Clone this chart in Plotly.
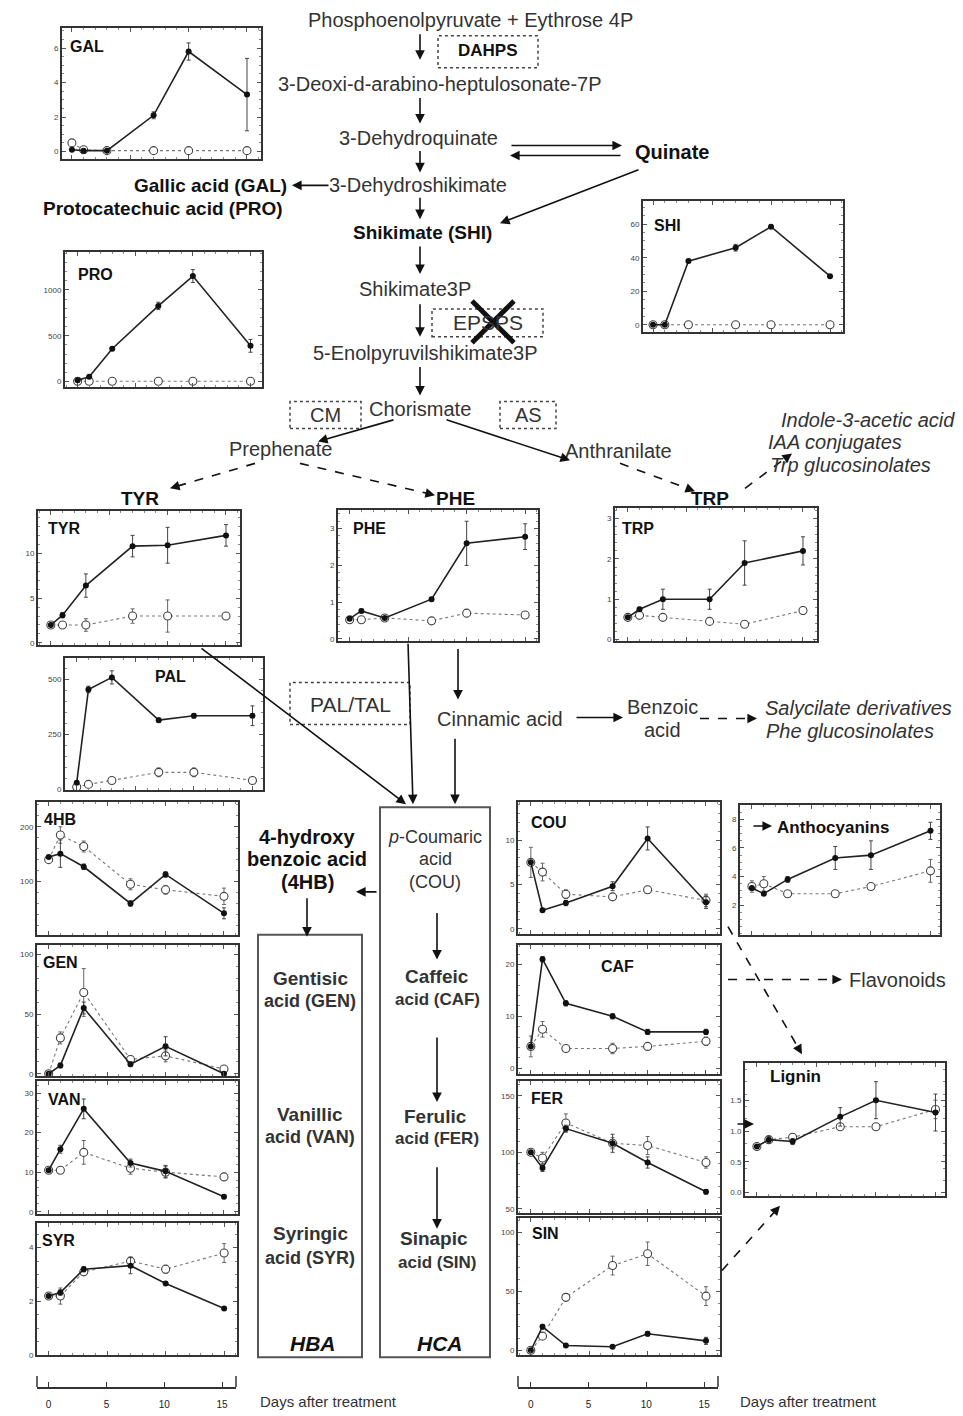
import plotly.graph_objects as go

W, H = 963, 1416
FONT = "Liberation Sans, Arial, sans-serif"

days = [0, 1, 3, 7, 10, 15]

# ---- data (filled = treated, open = control) ----
gal_f = [0.1, 0.05, 0.05, 2.1, 5.8, 3.3]
gal_f_err = [0, 0, 0, 0.2, 0.5, 2.1]
gal_o = [0.5, 0.1, 0.05, 0.05, 0.05, 0.05]
gal_o_err = [0, 0, 0, 0, 0, 0]

pro_f = [15, 54, 359, 826, 1152, 391]
pro_f_err = [0, 0, 20, 40, 70, 70]
pro_o = [5, 5, 5, 5, 5, 5]
pro_o_err = [0, 0, 0, 0, 0, 0]

shi_f = [0, 0, 38, 46, 58.5, 29]
shi_f_err = [0, 0, 1, 2, 1, 1]
shi_o = [0, 0, 0, 0, 0, 0]
shi_o_err = [0, 0, 0, 0, 0, 0]

tyr_f = [2.0, 3.1, 6.4, 10.8, 10.9, 12.0]
tyr_f_err = [0, 0.3, 1.3, 1.2, 2.0, 1.2]
tyr_o = [2.0, 2.0, 2.0, 3.0, 3.0, 3.0]
tyr_o_err = [0, 0, 0.7, 0.8, 1.8, 0.3]

phe_f = [0.55, 0.76, 0.57, 1.08, 2.6, 2.78]
phe_f_err = [0, 0.05, 0, 0.05, 0.6, 0.35]
phe_o = [0.52, 0.52, 0.57, 0.49, 0.7, 0.65]
phe_o_err = [0, 0, 0, 0, 0.1, 0.05]

trp_f = [0.55, 0.75, 1.0, 1.0, 1.9, 2.2]
trp_f_err = [0, 0.05, 0.25, 0.25, 0.55, 0.35]
trp_o = [0.55, 0.6, 0.55, 0.45, 0.38, 0.72]
trp_o_err = [0, 0, 0, 0, 0, 0.1]

pal_f = [30, 455, 510, 315, 335, 335]
pal_f_err = [0, 15, 30, 10, 10, 45]
pal_o = [10, 22, 40, 77, 77, 40]
pal_o_err = [0, 5, 8, 20, 20, 10]

hb4_f = [145, 151, 127, 60, 113, 42]
hb4_f_err = [0, 25, 5, 5, 5, 10]
hb4_o = [140, 185, 164, 95, 85, 73]
hb4_o_err = [0, 15, 10, 10, 8, 15]

gen_f = [0, 7, 55, 8, 23, 0]
gen_f_err = [0, 2, 5, 2, 8, 0]
gen_o = [0, 30, 68, 12, 15, 4]
gen_o_err = [0, 5, 20, 3, 5, 2]

van_f = [10.5, 15.8, 26, 12.3, 10.2, 3.8]
van_f_err = [0, 1, 2.5, 1, 1.5, 0.5]
van_o = [10.5, 10.5, 15, 11, 10, 8.8]
van_o_err = [0, 0.5, 3, 1.5, 1.5, 0.5]

syr_f = [2.2, 2.33, 3.2, 3.33, 2.67, 1.74]
syr_f_err = [0, 0.1, 0.1, 0.3, 0.05, 0.05]
syr_o = [2.2, 2.2, 3.1, 3.5, 3.2, 3.8]
syr_o_err = [0, 0.3, 0.1, 0.15, 0.15, 0.35]

cou_f = [7.5, 2.1, 2.9, 4.8, 10.2, 3.0]
cou_f_err = [0, 0.2, 0.3, 0.5, 1.3, 0.7]
cou_o = [7.5, 6.4, 3.9, 3.6, 4.4, 3.2]
cou_o_err = [1.7, 1.0, 0.5, 0.4, 0.4, 0.7]

caf_f = [4.2, 21, 12.5, 10, 7, 7]
caf_f_err = [0, 0.5, 0.5, 0.5, 0.5, 0.5]
caf_o = [4.2, 7.5, 3.8, 3.8, 4.2, 5.2]
caf_o_err = [2, 1.5, 0.5, 1, 0.5, 0.8]

fer_f = [100, 86, 121, 108, 91, 65]
fer_f_err = [0, 3, 3, 8, 5, 2]
fer_o = [100, 95, 126, 108, 106, 91]
fer_o_err = [0, 5, 8, 5, 8, 5]

sin_f = [0, 20, 4, 3, 14, 8]
sin_f_err = [0, 2, 1, 1, 2, 3]
sin_o = [0, 12, 45, 72, 82, 46]
sin_o_err = [0, 2, 3, 8, 10, 8]

ant_f = [3.2, 2.8, 3.8, 5.3, 5.5, 7.2]
ant_f_err = [0, 0.1, 0.2, 0.8, 1.0, 0.6]
ant_o = [3.3, 3.5, 2.8, 2.8, 3.3, 4.4]
ant_o_err = [0.4, 0.5, 0.1, 0.2, 0.2, 0.8]

lig_f = [0.75, 0.86, 0.83, 1.23, 1.5, 1.3]
lig_f_err = [0, 0.05, 0.05, 0.15, 0.3, 0.3]
lig_o = [0.75, 0.86, 0.9, 1.07, 1.07, 1.35]
lig_o_err = [0, 0.05, 0.05, 0.05, 0.05, 0.15]

day_ticks = [0, 5, 10, 15]
day_labels = ["0", "5", "10", "15"]


def px(x):
    return x / W


def py(y):
    return 1 - y / H


# name, box(x0,x1,y0,y1), xrange, yrange, ytickvals, yticktext, filled, ferr, open, oerr, label(x,y)
panels = [
    ("GAL", (62, 261, 28, 160), [-0.85, 16.2], [-0.46, 7.17], [0, 2, 4, 6], ["0", "2", "4", "6"],
     gal_f, gal_f_err, gal_o, gal_o_err, (87, 47)),
    ("PRO", (65, 262, 253, 388), [-1.1, 16.0], [-54, 1413], [0, 500, 1000], ["0", "500", "1000"],
     pro_f, pro_f_err, pro_o, pro_o_err, (95, 275)),
    ("SHI", (643, 843, 202, 333), [-0.85, 16.1], [-4.2, 73.7], [0, 20, 40, 60], ["0", "20", "40", "60"],
     shi_f, shi_f_err, shi_o, shi_o_err, (667, 226)),
    ("TYR", (38, 240, 513, 647), [-1.1, 16.2], [-0.2, 14.7], [0, 5, 10], ["0", "5", "10"],
     tyr_f, tyr_f_err, tyr_o, tyr_o_err, (64, 530)),
    ("PHE", (338, 538, 512, 643), [-1.0, 16.1], [-0.05, 3.5], [0, 1, 2, 3], ["0", "1", "2", "3"],
     phe_f, phe_f_err, phe_o, phe_o_err, (369, 530)),
    ("TRP", (615, 817, 510, 643), [-1.1, 16.2], [-0.03, 3.26], [0, 1, 2, 3], ["0", "1", "2", "3"],
     trp_f, trp_f_err, trp_o, trp_o_err, (638, 530)),
    ("PAL", (65, 263, 660, 793), [-1.0, 15.9], [-4.5, 600], [0, 250, 500], ["0", "250", "500"],
     pal_f, pal_f_err, pal_o, pal_o_err, (170, 679)),
    ("4HB", (37, 238, 805, 938), [-1.0, 16.2], [3, 245], [100, 200], ["100", "200"],
     hb4_f, hb4_f_err, hb4_o, hb4_o_err, (60, 822)),
    ("GEN", (37, 238, 948, 1080), [-1.0, 16.2], [-2, 108], [0, 50, 100], ["0", "50", "100"],
     gen_f, gen_f_err, gen_o, gen_o_err, (60, 966)),
    ("VAN", (37, 238, 1085, 1218), [-1.0, 16.2], [-0.5, 33], [0, 10, 20, 30], ["0", "10", "20", "30"],
     van_f, van_f_err, van_o, van_o_err, (64, 1103)),
    ("SYR", (37, 237, 1227, 1360), [-1.0, 16.1], [0, 4.93], [0, 2, 4], ["0", "2", "4"],
     syr_f, syr_f_err, syr_o, syr_o_err, (58, 1245)),
    ("COU", (518, 720, 805, 937), [-1.1, 16.2], [-0.56, 14.3], [0, 5, 10], ["0", "5", "10"],
     cou_f, cou_f_err, cou_o, cou_o_err, (549, 825)),
    ("CAF", (518, 720, 948, 1078), [-1.1, 16.2], [-1.15, 23.8], [0, 10, 20], ["0", "10", "20"],
     caf_f, caf_f_err, caf_o, caf_o_err, (617, 970)),
    ("FER", (518, 720, 1085, 1217), [-1.1, 16.2], [46.5, 163], [50, 100, 150], ["50", "100", "150"],
     fer_f, fer_f_err, fer_o, fer_o_err, (547, 1102)),
    ("SIN", (518, 720, 1222, 1360), [-1.1, 16.2], [-4.2, 112.7], [0, 50, 100], ["0", "50", "100"],
     sin_f, sin_f_err, sin_o, sin_o_err, (545, 1238)),
    ("Anthocyanins", (740, 940, 808, 938), [-1.0, 15.8], [-0.07, 9.0], [2, 4, 6, 8], ["2", "4", "6", "8"],
     ant_f, ant_f_err, ant_o, ant_o_err, (833, 830)),
    ("Lignin", (745, 945, 1067, 1200), [-1.0, 15.8], [-0.05, 2.1], [0, 0.5, 1.0, 1.5], ["0.0", "0.5", "1.0", "1.5"],
     lig_f, lig_f_err, lig_o, lig_o_err, (795, 1080)),
]

fig = go.Figure()
layout = dict(
    width=W, height=H, margin=dict(l=0, r=0, t=0, b=0),
    paper_bgcolor="white", plot_bgcolor="white", showlegend=False,
    font=dict(family=FONT, color="#222"),
)
annotations = []
shapes = []

for i, (name, box, xr, yr, ytv, ytt, f, fe, o, oe, lab) in enumerate(panels, start=1):
    xa = "x" if i == 1 else f"x{i}"
    ya = "y" if i == 1 else f"y{i}"
    fig.add_trace(go.Scatter(
        x=days, y=o, xaxis=xa, yaxis=ya, mode="lines+markers",
        line=dict(color="#777", width=1.1, dash="dot"),
        marker=dict(symbol="circle", size=8, color="white", line=dict(color="#444", width=1.1)),
        error_y=dict(type="data", array=oe, visible=True, color="#666", thickness=1, width=2),
    ))
    fig.add_trace(go.Scatter(
        x=days, y=f, xaxis=xa, yaxis=ya, mode="lines+markers",
        line=dict(color="#222", width=1.6),
        marker=dict(symbol="circle", size=6, color="#111"),
        error_y=dict(type="data", array=fe, visible=True, color="#444", thickness=1, width=2),
    ))
    x0, x1, y0, y1 = box
    kx = "xaxis" if i == 1 else f"xaxis{i}"
    ky = "yaxis" if i == 1 else f"yaxis{i}"
    layout[kx] = dict(
        domain=[px(x0), px(x1)], anchor=ya, range=xr, showgrid=False, zeroline=False,
        showline=True, linecolor="#333", linewidth=2, mirror="allticks",
        ticks="inside", ticklen=4, tickcolor="#555", tickvals=day_ticks, showticklabels=False,
        minor=dict(ticks="inside", ticklen=2, tickcolor="#888", dtick=1),
    )
    layout[ky] = dict(
        domain=[py(y1), py(y0)], anchor=xa, range=yr, showgrid=False, zeroline=False,
        showline=True, linecolor="#333", linewidth=2, mirror="allticks",
        ticks="inside", ticklen=4, tickcolor="#555", tickvals=ytv, ticktext=ytt,
        tickfont=dict(size=8, color="#444", family=FONT),
        minor=dict(ticks="inside", ticklen=2, tickcolor="#888", nticks=4),
    )
    annotations.append(dict(
        x=px(lab[0]), y=py(lab[1]), xref="paper", yref="paper", text=f"<b>{name}</b>",
        showarrow=False, xanchor="center", yanchor="middle",
        font=dict(size=16 if len(name) < 5 else 17, color="#111", family=FONT),
    ))

# ---- day axes (bottom) ----
n = len(panels)
for j, (x0, x1, xr) in enumerate([(37, 236, [-1.0, 16.2]), (518, 718, [-1.1, 16.2])]):
    k = n + 1 + j
    xa, ya = f"x{k}", f"y{k}"
    fig.add_trace(go.Scatter(x=day_ticks, y=[0, 0, 0, 0], xaxis=xa, yaxis=ya, mode="markers",
                             marker=dict(opacity=0), hoverinfo="skip"))
    layout[f"xaxis{k}"] = dict(
        domain=[px(x0), px(x1)], anchor=ya, range=xr, showgrid=False, zeroline=False,
        showline=True, linecolor="#333", linewidth=1.5, ticks="inside", ticklen=5,
        tickcolor="#333", tickvals=day_ticks, ticktext=day_labels, ticklabelstandoff=7,
        tickfont=dict(size=10, color="#222", family=FONT),
    )
    layout[f"yaxis{k}"] = dict(domain=[py(1392), py(1381)], anchor=xa, range=[0, 1], visible=False)
    for xc in (x0, x1):
        shapes.append(dict(type="line", xref="paper", yref="paper", x0=px(xc), x1=px(xc),
                           y0=py(1392), y1=py(1381), line=dict(color="#333", width=1.5)))


def text(x, y, s, size=20, color="#333", bold=False, italic=False, xanchor="center"):
    if bold:
        s = f"<b>{s}</b>"
    if italic:
        s = f"<i>{s}</i>"
    annotations.append(dict(x=px(x), y=py(y), xref="paper", yref="paper", text=s, showarrow=False,
                            xanchor=xanchor, yanchor="middle",
                            font=dict(size=size, color=color, family=FONT)))


def arrow(x0, y0, x1, y1, dash=False, width=1.6, color="#111"):
    if dash:
        dx, dy = x1 - x0, y1 - y0
        L = (dx * dx + dy * dy) ** 0.5
        ux, uy = dx / L, dy / L
        shapes.append(dict(type="line", xref="paper", yref="paper", x0=px(x0), y0=py(y0),
                           x1=px(x1 - ux * 6), y1=py(y1 - uy * 6),
                           line=dict(color=color, width=width, dash="dash")))
        annotations.append(dict(x=px(x1), y=py(y1), xref="paper", yref="paper", text="",
                                showarrow=True, ax=-ux * 10, ay=-uy * 10, arrowhead=2,
                                arrowsize=1.2, arrowwidth=width, arrowcolor=color))
    else:
        annotations.append(dict(x=px(x1), y=py(y1), xref="paper", yref="paper", text="",
                                showarrow=True, ax=x0 - x1, ay=y0 - y1, arrowhead=2,
                                arrowsize=1.2, arrowwidth=width, arrowcolor=color))


def dbox(x0, y0, x1, y1, dash="dot", width=1.5, color="#444"):
    shapes.append(dict(type="rect", xref="paper", yref="paper", x0=px(x0), x1=px(x1),
                       y0=py(y1), y1=py(y0), line=dict(color=color, width=width, dash=dash)))


# ---- pathway text ----
text(470, 20, "Phosphoenolpyruvate + Eythrose 4P")
text(440, 84, "3-Deoxi-d-arabino-heptulosonate-7P")
text(418, 138, "3-Dehydroquinate")
text(418, 186, "3-Dehydroshikimate")
text(422, 233, "Shikimate (SHI)", size=19, color="#111", bold=True)
text(415, 290, "Shikimate3P")
text(425, 354, "5-Enolpyruvilshikimate3P")
text(420, 410, "Chorismate")
text(280, 451, "Prephenate")
text(618, 453, "Anthranilate")
text(672, 153, "Quinate", size=20, color="#111", bold=True)
text(210, 186, "Gallic acid (GAL)", size=19, color="#111", bold=True)
text(163, 209, "Protocatechuic acid (PRO)", size=19, color="#111", bold=True)
text(488, 51, "DAHPS", size=17, color="#111", bold=True)
text(488, 324, "EPSPS", size=21)
text(325, 416, "CM")
text(528, 416, "AS")
text(140, 500, "TYR", size=19, color="#111", bold=True)
text(455, 500, "PHE", size=19, color="#111", bold=True)
text(710, 500, "TRP", size=19, color="#111", bold=True)
text(868, 421, "Indole-3-acetic acid", italic=True)
text(835, 444, "IAA conjugates", italic=True)
text(850, 467, "Trp glucosinolates", italic=True)
text(350, 707, "PAL/TAL", size=21)
text(500, 722, "Cinnamic acid")
text(662, 710, "Benzoic")
text(662, 733, "acid")
text(858, 711, "Salycilate derivatives", italic=True)
text(850, 734, "Phe glucosinolates", italic=True)
text(307, 840, "4-hydroxy", size=20, color="#111", bold=True)
text(307, 862, "benzoic acid", size=20, color="#111", bold=True)
text(307, 885, "(4HB)", size=20, color="#111", bold=True)
text(435, 840, "<i>p</i>-Coumaric", size=18)
text(435, 862, "acid", size=18)
text(435, 885, "(COU)", size=18)
text(437, 980, "Caffeic", size=19, bold=True)
text(437, 1003, "acid (CAF)", size=17, bold=True)
text(435, 1120, "Ferulic", size=19, bold=True)
text(437, 1143, "acid (FER)", size=17, bold=True)
text(434, 1243, "Sinapic", size=19, bold=True)
text(437, 1267, "acid (SIN)", size=17, bold=True)
text(310, 982, "Gentisic", size=19, bold=True)
text(310, 1005, "acid (GEN)", size=18, bold=True)
text(310, 1118, "Vanillic", size=19, bold=True)
text(310, 1141, "acid (VAN)", size=18, bold=True)
text(310, 1238, "Syringic", size=19, bold=True)
text(310, 1262, "acid (SYR)", size=18, bold=True)
text(313, 1348, "HBA", size=21, color="#111", bold=True, italic=True)
text(440, 1348, "HCA", size=21, color="#111", bold=True, italic=True)
text(897, 983, "Flavonoids", size=20)
text(258, 1406, "Days after treatment", size=15, xanchor="left")
text(738, 1406, "Days after treatment", size=15, xanchor="left")

# ---- boxes ----
dbox(438, 36, 538, 68)
dbox(432, 310, 543, 338)
dbox(290, 403, 361, 430)
dbox(500, 403, 556, 430)
dbox(290, 685, 410, 727)
dbox(380, 810, 490, 1362, dash="solid", width=2, color="#555")
dbox(258, 938, 362, 1362, dash="solid", width=2, color="#555")

# big X over EPSPS
shapes.append(dict(type="line", xref="paper", yref="paper", x0=px(472), y0=py(302), x1=px(514), y1=py(344),
                   line=dict(color="#111", width=5)))
shapes.append(dict(type="line", xref="paper", yref="paper", x0=px(472), y0=py(344), x1=px(514), y1=py(302),
                   line=dict(color="#111", width=5)))

# ---- arrows ----
arrow(420, 33, 420, 60)
arrow(420, 97, 420, 124)
arrow(420, 150, 420, 173)
arrow(420, 197, 420, 220)
arrow(420, 246, 420, 275)
arrow(420, 304, 420, 338)
arrow(420, 367, 420, 397)
arrow(330, 186, 292, 186)
arrow(510, 146, 622, 146)
arrow(622, 156, 510, 156)
arrow(640, 170, 500, 224)
arrow(395, 421, 318, 443)
arrow(445, 421, 570, 462)
arrow(255, 465, 170, 490, dash=True)
arrow(300, 465, 435, 497, dash=True)
arrow(620, 465, 695, 493, dash=True)
arrow(745, 490, 792, 455, dash=True)
arrow(458, 650, 458, 702)
arrow(408, 645, 413, 807)
arrow(455, 740, 455, 807)
arrow(200, 650, 406, 807)
arrow(575, 720, 623, 720)
arrow(700, 721, 757, 721, dash=True)
arrow(378, 895, 356, 895)
arrow(307, 900, 307, 940)
arrow(437, 915, 437, 963)
arrow(437, 1040, 437, 1106)
arrow(437, 1170, 437, 1233)
arrow(728, 983, 842, 983, dash=True)
arrow(728, 930, 802, 1058, dash=True)
arrow(722, 1275, 780, 1210, dash=True)
arrow(752, 829, 772, 829)
arrow(736, 1128, 754, 1128)

layout["annotations"] = annotations
layout["shapes"] = shapes
fig.update_layout(**layout)
fig.write_html("out.html", config={"displayModeBar": False},
               post_script="document.body.style.margin='0';")
